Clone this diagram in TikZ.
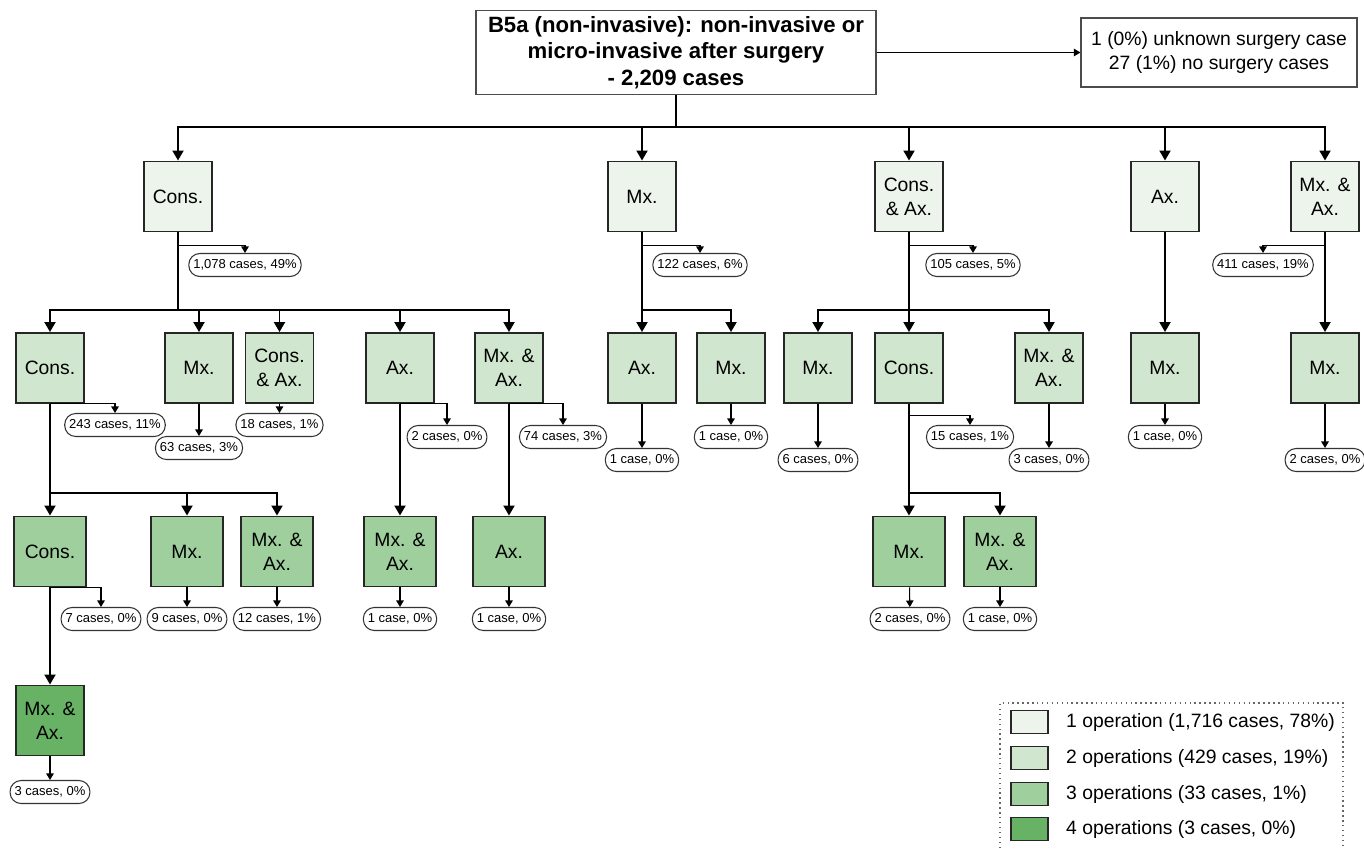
\documentclass[tikz,border=0pt]{standalone}
\usepackage{fontspec}
\setmainfont{Liberation Sans}
\usetikzlibrary{arrows.meta}
\definecolor{opone}{RGB}{236,244,235}
\definecolor{optwo}{RGB}{208,230,206}
\definecolor{opthree}{RGB}{159,207,157}
\definecolor{opfour}{RGB}{104,178,102}

\begin{document}
\begin{tikzpicture}[x=0.02cm, y=-0.02cm,
	op/.style = {draw=black!85, line width=1.1pt, minimum width=1.36cm, minimum height=1.4cm, align=center, inner sep=1pt, font=\fontsize{11}{13.6}\selectfont},
	lvlone/.style = {op, fill=opone},
	lvltwo/.style = {op, fill=optwo},
	lvlthree/.style = {op, fill=opthree, minimum width=1.44cm},
	lvlfour/.style = {op, fill=opfour},
	cases/.style = {draw=black!80, line width=0.6pt, rounded corners=0.22cm, fill=white, minimum height=0.46cm, inner xsep=0.09cm, inner ysep=0pt, font=\fontsize{7.4}{9}\selectfont},
	link/.style = {line width=1.1pt, -{Triangle[length=0.2cm,width=0.22cm]}},
	count/.style = {line width=0.6pt, -{Triangle[length=0.13cm,width=0.15cm]}},
	swatch/.style = {draw=black!85, line width=1pt, minimum width=0.74cm, minimum height=0.46cm}]
				\useasboundingbox (0,0) rectangle (1364,848);
				\coordinate (bus0) at (0,127);
				\coordinate (bus1) at (0,310);
				\coordinate (bus2) at (0,493);
				\node[draw=black!70, line width=0.9pt, minimum width=8cm, minimum height=1.62cm, align=center, font=\fontsize{12.6}{15}\selectfont\bfseries] (root) at (676,52.5) {B5a (non-invasive): non-invasive or\\micro-invasive after surgery\\- 2,209 cases};
				\node[draw=black!70, line width=0.7pt, minimum width=5.52cm, minimum height=1.38cm, align=center, font=\fontsize{11}{14}\selectfont] (side) at (1219,52.5) {1 (0\%) unknown surgery case\\27 (1\%) no surgery cases};
				\draw [count] (root.east) -- (side.west);
				% first operation
				\node[lvlone] (consA) at (178,196.5) {Cons.};
				\node[lvlone] (mxA) at (642,196.5) {Mx.};
				\node[lvlone] (consaxA) at (909,196.5) {Cons.\\\& Ax.};
				\node[lvlone] (axA) at (1165,196.5) {Ax.};
				\node[lvlone] (mxaxA) at (1325,196.5) {Mx. \&\\Ax.};
				\node[cases] (n1078) at (245,265) {1,078 cases, 49\%};
				\node[cases] (n122) at (700,265) {122 cases, 6\%};
				\node[cases] (n105) at (973,265) {105 cases, 5\%};
				\node[cases] (n411) at (1263,265) {411 cases, 19\%};
				\draw [link] (root.south) -- (root.south |- bus0) -| (consA.north);
				\draw [link] (root.south) -- (root.south |- bus0) -| (mxA.north);
				\draw [link] (root.south) -- (root.south |- bus0) -| (consaxA.north);
				\draw [link] (root.south) -- (root.south |- bus0) -| (axA.north);
				\draw [link] (root.south) -- (root.south |- bus0) -| (mxaxA.north);
				\draw [count] (consA.south) ++(0,13) -| (n1078.north);
				\draw [count] (mxA.south) ++(0,13) -| (n122.north);
				\draw [count] (consaxA.south) ++(0,13) -| (n105.north);
				\draw [count] (mxaxA.south) ++(0,13) -| (n411.north);
				% second operation
				\node[lvltwo] (consB) at (50,368) {Cons.};
				\node[lvltwo] (mxB) at (199,368) {Mx.};
				\node[lvltwo] (consaxB) at (279.5,368) {Cons.\\\& Ax.};
				\node[lvltwo] (axB) at (400,368) {Ax.};
				\node[lvltwo] (mxaxB) at (509,368) {Mx. \&\\Ax.};
				\node[lvltwo] (axC) at (642,368) {Ax.};
				\node[lvltwo] (mxC) at (731,368) {Mx.};
				\node[lvltwo] (mxD) at (818,368) {Mx.};
				\node[lvltwo] (consD) at (909,368) {Cons.};
				\node[lvltwo] (mxaxD) at (1049,368) {Mx. \&\\Ax.};
				\node[lvltwo] (mxE) at (1165,368) {Mx.};
				\node[lvltwo] (mxF) at (1325,368) {Mx.};
				\draw [link] (consA.south) -- (consA.south |- bus1) -| (consB.north);
				\draw [link] (consA.south) -- (consA.south |- bus1) -| (mxB.north);
				\draw [link] (consA.south) -- (consA.south |- bus1) -| (consaxB.north);
				\draw [link] (consA.south) -- (consA.south |- bus1) -| (axB.north);
				\draw [link] (consA.south) -- (consA.south |- bus1) -| (mxaxB.north);
				\draw [link] (mxA.south) -- (mxA.south |- bus1) -| (axC.north);
				\draw [link] (mxA.south) -- (mxA.south |- bus1) -| (mxC.north);
				\draw [link] (consaxA.south) -- (consaxA.south |- bus1) -| (mxD.north);
				\draw [link] (consaxA.south) -- (consaxA.south |- bus1) -| (consD.north);
				\draw [link] (consaxA.south) -- (consaxA.south |- bus1) -| (mxaxD.north);
				\draw [link] (axA) -- (mxE);
				\draw [link] (mxaxA) -- (mxF);
				\node[cases] (n243) at (115,425) {243 cases, 11\%};
				\node[cases] (n63) at (199,448) {63 cases, 3\%};
				\node[cases] (n18) at (279.5,425) {18 cases, 1\%};
				\node[cases] (n2a) at (447,437) {2 cases, 0\%};
				\node[cases] (n74) at (563,437) {74 cases, 3\%};
				\node[cases] (n1a) at (642,460) {1 case, 0\%};
				\node[cases] (n1b) at (731,437) {1 case, 0\%};
				\node[cases] (n6) at (818,460) {6 cases, 0\%};
				\node[cases] (n15) at (970,437) {15 cases, 1\%};
				\node[cases] (n3a) at (1049,460) {3 cases, 0\%};
				\node[cases] (n1c) at (1165,437) {1 case, 0\%};
				\node[cases] (n2b) at (1325,460) {2 cases, 0\%};
				\draw [count] (consB.south) -| (n243.north);
				\draw [count] (mxB) -- (n63);
				\draw [count] (consaxB) -- (n18);
				\draw [count] (axB.south) -| (n2a.north);
				\draw [count] (mxaxB.south) -| (n74.north);
				\draw [count] (axC) -- (n1a);
				\draw [count] (mxC) -- (n1b);
				\draw [count] (mxD) -- (n6);
				\draw [count] (consD.south) ++(0,12) -| (n15.north);
				\draw [count] (mxaxD) -- (n3a);
				\draw [count] (mxE) -- (n1c);
				\draw [count] (mxF) -- (n2b);
				% third operation
				\node[lvlthree] (consG) at (50,551.5) {Cons.};
				\node[lvlthree] (mxG) at (187,551.5) {Mx.};
				\node[lvlthree] (mxaxG) at (277,551.5) {Mx. \&\\Ax.};
				\node[lvlthree] (mxaxH) at (400,551.5) {Mx. \&\\Ax.};
				\node[lvlthree] (axH) at (509,551.5) {Ax.};
				\node[lvlthree] (mxI) at (909,551.5) {Mx.};
				\node[lvlthree] (mxaxI) at (1000,551.5) {Mx. \&\\Ax.};
				\draw [link] (consB.south) -- (consB.south |- bus2) -| (consG.north);
				\draw [link] (consB.south) -- (consB.south |- bus2) -| (mxG.north);
				\draw [link] (consB.south) -- (consB.south |- bus2) -| (mxaxG.north);
				\draw [link] (axB) -- (mxaxH);
				\draw [link] (mxaxB) -- (axH);
				\draw [link] (consD.south) -- (consD.south |- bus2) -| (mxI.north);
				\draw [link] (consD.south) -- (consD.south |- bus2) -| (mxaxI.north);
				\node[cases] (n7) at (101,619) {7 cases, 0\%};
				\node[cases] (n9) at (187,619) {9 cases, 0\%};
				\node[cases] (n12) at (277,619) {12 cases, 1\%};
				\node[cases] (n1d) at (400,619) {1 case, 0\%};
				\node[cases] (n1e) at (509,619) {1 case, 0\%};
				\node[cases] (n2c) at (910,619) {2 cases, 0\%};
				\node[cases] (n1f) at (1000,619) {1 case, 0\%};
				\draw [count] (consG.south) -| (n7.north);
				\draw [count] (mxG) -- (n9);
				\draw [count] (mxaxG) -- (n12);
				\draw [count] (mxaxH) -- (n1d);
				\draw [count] (axH) -- (n1e);
				\draw [count] (mxI) -- (n2c);
				\draw [count] (mxaxI) -- (n1f);
				% fourth operation
				\node[lvlfour] (mxaxJ) at (50,720.5) {Mx. \&\\Ax.};
				\node[cases] (n3b) at (50,792) {3 cases, 0\%};
				\draw [link] (consG) -- (mxaxJ);
				\draw [count] (mxaxJ) -- (n3b);
				% legend
				\draw [dotted, line width=0.8pt, black!60] (1000,848) -- (1000,703) -- (1343,703) -- (1343,848);
				\begin{scope}[every node/.style={font=\fontsize{11}{13}\selectfont, anchor=west}]
					\node[swatch, fill=opone, anchor=center] (sw1) at (1029.5,722) {};
					\node[swatch, fill=optwo, anchor=center] (sw2) at (1029.5,758) {};
					\node[swatch, fill=opthree, anchor=center] (sw3) at (1029.5,794) {};
					\node[swatch, fill=opfour, anchor=center] (sw4) at (1029.5,829) {};
					\node (leg1) at (1060,722) {1 operation (1,716 cases, 78\%)};
					\node (leg2) at (1060,758) {2 operations (429 cases, 19\%)};
					\node (leg3) at (1060,794) {3 operations (33 cases, 1\%)};
					\node (leg4) at (1060,829) {4 operations (3 cases, 0\%)};
				\end{scope}
			\end{tikzpicture}
\end{document}
